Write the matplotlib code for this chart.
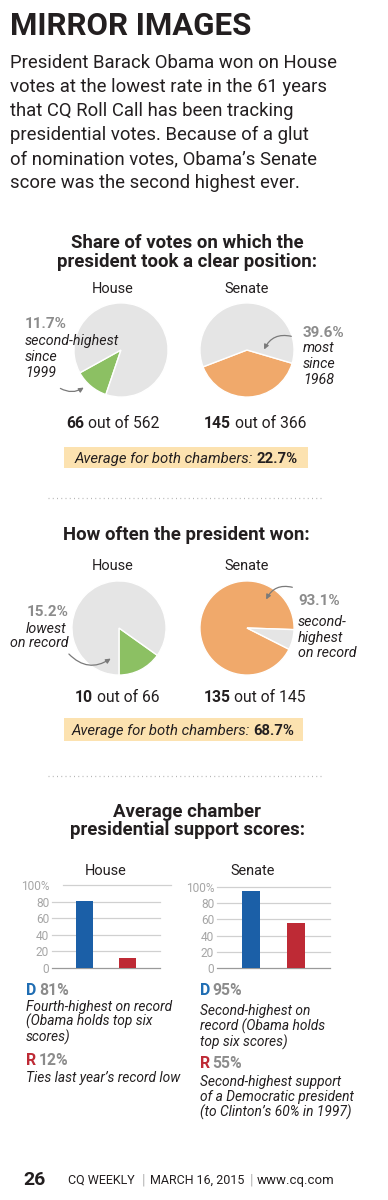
import matplotlib
matplotlib.use('Agg')
import matplotlib.pyplot as plt
from matplotlib import font_manager
from matplotlib.patches import Rectangle, FancyArrowPatch
from matplotlib.lines import Line2D

# data
chambers = ['House', 'Senate']
position_votes = [66, 145]
total_votes = [562, 366]
position_pct = ['11.7%', '39.6%']
position_avg = '22.7%'
won_votes = [10, 135]
won_pct = ['15.2%', '93.1%']
won_avg = '68.7%'
parties = ['D', 'R']
house_scores = [81, 12]
senate_scores = [95, 55]
score_ticks = [0, 20, 40, 60, 80, 100]
score_ticklabels = ['0', '20', '40', '60', '80', '100%']

W, H = 388, 1200
names = {f.name for f in font_manager.fontManager.ttflist}
NARROW = 'Liberation Sans Narrow' in names
COND = 'Liberation Sans Narrow' if NARROW else 'Roboto'
BODY = 'Roboto'
# roboto is wider than the condensed face in the original, so shrink it
K = 1.0 if NARROW else 0.9

GREEN = '#8cc063'
ORANGE = '#f0a96b'
PIEGRAY = '#e5e5e5'
BLUE = '#1b5fa7'
RED = '#be2a35'
TXT = '#231f20'
GRAYTXT = '#8c8c8c'
BOX = '#fce2b0'

fig = plt.figure(figsize=(W / 100, H / 100), dpi=100)
fig.patch.set_facecolor('white')
renderer = fig.canvas.get_renderer()


def T(x, y, s, **kw):
    kw.setdefault('va', 'baseline')
    return fig.text(x / W, 1 - y / H, s, **kw)


def rich(x, y, parts, ha='left', gap=3.5, **common):
    # parts: list of (text, props); placed one after another
    objs = []
    widths = []
    for s, kw in parts:
        t = T(0, y, s, **common, **kw)
        widths.append(t.get_window_extent(renderer).width)
        objs.append(t)
    total = sum(widths) + gap * (len(parts) - 1)
    cur = x if ha == 'left' else x - total / 2
    for t, w in zip(objs, widths):
        t.set_x(cur / W)
        cur += w + gap
    return objs


def arrow(x0, y0, x1, y1, rad):
    a = FancyArrowPatch((x0 / W, 1 - y0 / H), (x1 / W, 1 - y1 / H),
                        transform=fig.transFigure,
                        connectionstyle=f'arc3,rad={rad}',
                        arrowstyle='-|>', mutation_scale=7,
                        color='#7a7a7a', lw=0.9)
    fig.add_artist(a)


def pie(cx, cy, r, vals, colors, start):
    ax = fig.add_axes([(cx - r) / W, 1 - (cy + r) / H, 2 * r / W, 2 * r / H])
    ax.pie(vals, colors=colors, startangle=start, counterclock=True,
           wedgeprops=dict(edgecolor='white', linewidth=1.0))
    ax.set_xlim(-1.02, 1.02)
    ax.set_ylim(-1.02, 1.02)
    ax.axis('off')
    return ax


def dotted(y):
    fig.add_artist(Line2D([48 / W, 322 / W], [1 - y / H, 1 - y / H],
                          transform=fig.transFigure, color='#b5b5b5',
                          lw=0.9, linestyle=(0, (0.8, 2.6))))


def box(x0, y0, x1, y1):
    fig.add_artist(Rectangle((x0 / W, 1 - y1 / H), (x1 - x0) / W, (y1 - y0) / H,
                             transform=fig.transFigure, facecolor=BOX,
                             edgecolor='none', zorder=0.5))


SEC = 13.4      # section heading size
LBL = 11.6 * K  # House / Senate
PCT = 12.2 * K  # grey percentages
ITA = 11.4 * K  # italic pie notes
CNT = 12.6 * K  # "66 out of 562"
AVG = 11.9 * K  # yellow box
NOTE = 11.0 * K  # italic notes under bars

# header
T(10, 35, 'MIRROR IMAGES', family=BODY, weight='bold', size=22.5, color=TXT)
para = ['President Barack Obama won on House',
        'votes at the lowest rate in the 61 years',
        'that CQ Roll Call has been tracking',
        'presidential votes. Because of a glut',
        'of nomination votes, Obama\u2019s Senate',
        'score was the second highest ever.']
for i, line in enumerate(para):
    T(10, 68 + i * 24, line, family=BODY, size=13.3, color=TXT)

# section 1: position share
T(187, 248, 'Share of votes on which the', family=BODY, weight='bold',
  size=SEC, color=TXT, ha='center')
T(187, 267, 'president took a clear position:', family=BODY, weight='bold',
  size=SEC, color=TXT, ha='center')
T(113, 293, chambers[0], family=COND, size=LBL, color=TXT, ha='center')
T(247, 293, chambers[1], family=COND, size=LBL, color=TXT, ha='center')

pie(121, 350, 48, [position_votes[0], total_votes[0] - position_votes[0]],
    [GREEN, PIEGRAY], 209)
pie(247, 350, 48, [position_votes[1], total_votes[1] - position_votes[1]],
    [ORANGE, PIEGRAY], 201)

T(25, 328, position_pct[0], family=COND, weight='bold', size=PCT, color=GRAYTXT)
for yy, s in zip([345, 361, 377], ['second-highest', 'since', '1999']):
    T(25, yy, s, family=COND, style='italic', size=ITA, color=TXT)
arrow(58, 387, 86, 386, 0.35)

T(303, 337, position_pct[1], family=COND, weight='bold', size=PCT, color=GRAYTXT)
for yy, s in zip([352, 368, 384], ['most', 'since', '1968']):
    T(303, yy, s, family=COND, style='italic', size=ITA, color=TXT)
arrow(294, 337, 263, 352, 0.45)

rich(113, 428, [(str(position_votes[0]), dict(weight='bold')),
                (f'out of {total_votes[0]}', {})],
     ha='center', family=COND, size=CNT, color=TXT)
rich(255, 428, [(str(position_votes[1]), dict(weight='bold')),
                (f'out of {total_votes[1]}', {})],
     ha='center', family=COND, size=CNT, color=TXT)

box(64, 447, 308, 468)
rich(186, 463, [('Average for both chambers:', dict(style='italic')),
                (position_avg, dict(weight='bold'))],
     ha='center', family=COND, size=AVG, color=TXT)

dotted(498)

# section 2: how often won
T(186, 540, 'How often the president won:', family=BODY, weight='bold',
  size=SEC, color=TXT, ha='center')
T(113, 570, chambers[0], family=COND, size=LBL, color=TXT, ha='center')
T(247, 570, chambers[1], family=COND, size=LBL, color=TXT, ha='center')

pie(119, 628, 48, [won_votes[0], position_votes[0] - won_votes[0]],
    [GREEN, PIEGRAY], 270)
pie(247, 628, 48, [won_votes[1], position_votes[1] - won_votes[1]],
    [ORANGE, PIEGRAY], -2)

T(69, 616, won_pct[0], family=COND, weight='bold', size=PCT, color=GRAYTXT,
  ha='right')
T(66, 633, 'lowest', family=COND, style='italic', size=ITA, color=TXT, ha='right')
T(69, 647, 'on record', family=COND, style='italic', size=ITA, color=TXT,
  ha='right')
arrow(67, 652, 113, 657, 0.45)

T(298, 605, won_pct[1], family=COND, weight='bold', size=PCT, color=GRAYTXT)
for yy, s in zip([626, 642, 657], ['second-', 'highest', 'on record']):
    T(298, yy, s, family=COND, style='italic', size=ITA, color=TXT)
arrow(295, 588, 265, 602, 0.45)

rich(117, 702, [(str(won_votes[0]), dict(weight='bold')),
                (f'out of {position_votes[0]}', {})],
     ha='center', family=COND, size=CNT, color=TXT)
rich(255, 702, [(str(won_votes[1]), dict(weight='bold')),
                (f'out of {position_votes[1]}', {})],
     ha='center', family=COND, size=CNT, color=TXT)

box(64, 718, 303, 741)
rich(183, 735, [('Average for both chambers:', dict(style='italic')),
                (won_avg, dict(weight='bold'))],
     ha='center', family=COND, size=AVG, color=TXT)

dotted(776)

# section 3: support scores
T(187, 817, 'Average chamber', family=BODY, weight='bold', size=SEC,
  color=TXT, ha='center')
T(187, 835, 'presidential support scores:', family=BODY, weight='bold',
  size=SEC, color=TXT, ha='center')


def bars(x0, x1, ytop, ybot, vals, title, tx, top_span=(0, 1)):
    ax = fig.add_axes([x0 / W, 1 - ybot / H, (x1 - x0) / W, (ybot - ytop) / H])
    ax.bar([0, 1], vals, width=0.4, color=[BLUE, RED], zorder=3)
    ax.set_xlim(-0.756, 1.756)
    ax.set_ylim(0, 100)
    ax.set_yticks(score_ticks)
    ax.set_yticklabels(score_ticklabels, family=COND, size=9.5 * K,
                       color='#a6a6a6')
    ax.tick_params(axis='y', length=0, pad=2)
    ax.set_xticks([])
    for v in score_ticks:
        lo, hi = top_span if v == 100 else (0, 1)
        ax.axhline(v, lo, hi, color='#9a9a9a' if v == 0 else '#d0d0d0',
                   lw=0.9, zorder=1, clip_on=False)
    for s in ax.spines.values():
        s.set_visible(False)
    ax.patch.set_alpha(0)
    T(tx, 875, title, family=COND, size=LBL, color=TXT, ha='center')
    return ax


bars(52, 160, 885, 968, house_scores, chambers[0], 106, top_span=(0.1, 1.1))
bars(217, 330, 887, 968, senate_scores, chambers[1], 253)


# notes under the bars
def note(x, y, party, val, color):
    rich(x, y, [(party, dict(color=color)), (f'{val}%', dict(color=GRAYTXT))],
         gap=2.5, family=COND, weight='bold', size=12.6 * K)


note(26, 995, parties[0], house_scores[0], '#1f6db3')
for yy, s in zip([1011, 1026, 1042], ['Fourth-highest on record',
                                      '(Obama holds top six', 'scores)']):
    T(26, yy, s, family=COND, style='italic', size=NOTE, color=TXT)
note(26, 1065, parties[1], house_scores[1], RED)
T(26, 1082, 'Ties last year\u2019s record low', family=COND, style='italic',
  size=NOTE, color=TXT)

note(200, 995, parties[0], senate_scores[0], '#1f6db3')
for yy, s in zip([1015, 1031, 1047], ['Second-highest on',
                                      'record (Obama holds', 'top six scores)']):
    T(200, yy, s, family=COND, style='italic', size=NOTE, color=TXT)
note(200, 1068, parties[1], senate_scores[1], RED)
for yy, s in zip([1086, 1101, 1117], ['Second-highest support',
                                      'of a Democratic president',
                                      '(to Clinton\u2019s 60% in 1997)']):
    T(200, yy, s, family=COND, style='italic', size=NOTE, color=TXT)

# footer
T(23, 1185, '26', family=BODY, weight='bold', size=14, color=TXT)
T(68, 1184, 'CQ WEEKLY', family=BODY, size=9, color=TXT)
T(142, 1185, '|', family=BODY, size=10, color='#b0b0b0')
T(150, 1184, 'MARCH 16, 2015', family=BODY, size=9.0, color=TXT)
T(250, 1185, '|', family=BODY, size=10, color='#b0b0b0')
T(257, 1184, 'www.cq.com', family=BODY, size=9.5, color=TXT)

fig.savefig('out.png', dpi=100)
